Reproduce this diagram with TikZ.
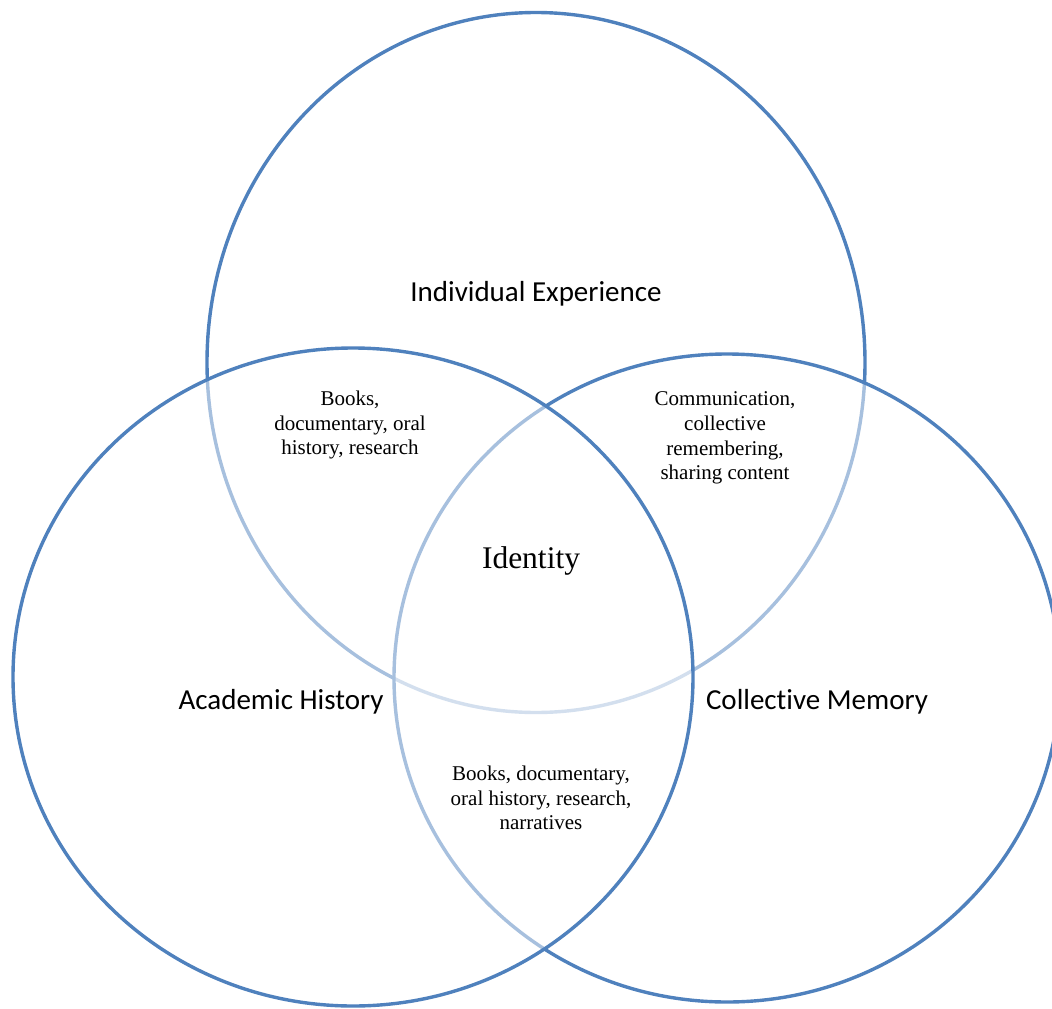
\documentclass[tikz,border=0pt]{standalone}
\usepackage{fontspec}
\setmainfont{Liberation Serif}
\newfontfamily\labelfont[Ligatures=NoCommon]{Carlito}
\definecolor{vblue}{HTML}{4F81BD}
\begin{document}
\begin{tikzpicture}[x=1pt,y=-1pt,
  ring/.style={draw=vblue, line width=3.4pt},
  veil/.style={fill=white, fill opacity=0.5},
  biglabel/.style={font=\labelfont\fontsize{29}{34}\selectfont, anchor=base, inner sep=0pt},
  smalltext/.style={font=\fontsize{21}{24.7}\selectfont, align=center, inner sep=0pt}]
\useasboundingbox (0,0) rectangle (1052,1009);
\clip (0,0) rectangle (1052,1009);
% circles: top, right, left (each veils what lies below)
\coordinate (ctop) at (536,362.5);
\coordinate (cright) at (727,678);
\coordinate (cleft) at (353,677);
\path[veil] (ctop) ellipse [x radius=329pt, y radius=350pt];
\draw[ring] (ctop) ellipse [x radius=329pt, y radius=350pt];
\path[veil] (cright) ellipse [x radius=333pt, y radius=324pt];
\draw[ring] (cright) ellipse [x radius=333pt, y radius=324pt];
\path[veil] (cleft) ellipse [x radius=340pt, y radius=329pt];
\draw[ring] (cleft) ellipse [x radius=340pt, y radius=329pt];
% labels
\node[biglabel] (ind) at (536,301) {Individual Experience};
\node[biglabel] (acad) at (281,709) {Academic History};
\node[biglabel] (coll) at (817,709) {Collective Memory};
\node[font=\fontsize{31.5}{36}\selectfont, anchor=base, inner sep=0pt] (ident) at (531,568) {Identity};
\node[smalltext] (ab) at (350,425) {Books,\\documentary, oral\\history, research};
\node[smalltext] (bc) at (725,438) {Communication,\\collective\\remembering,\\sharing content};
\node[smalltext] (ac) at (541,798) {Books, documentary,\\oral history, research,\\narratives};
\end{tikzpicture}
\end{document}
